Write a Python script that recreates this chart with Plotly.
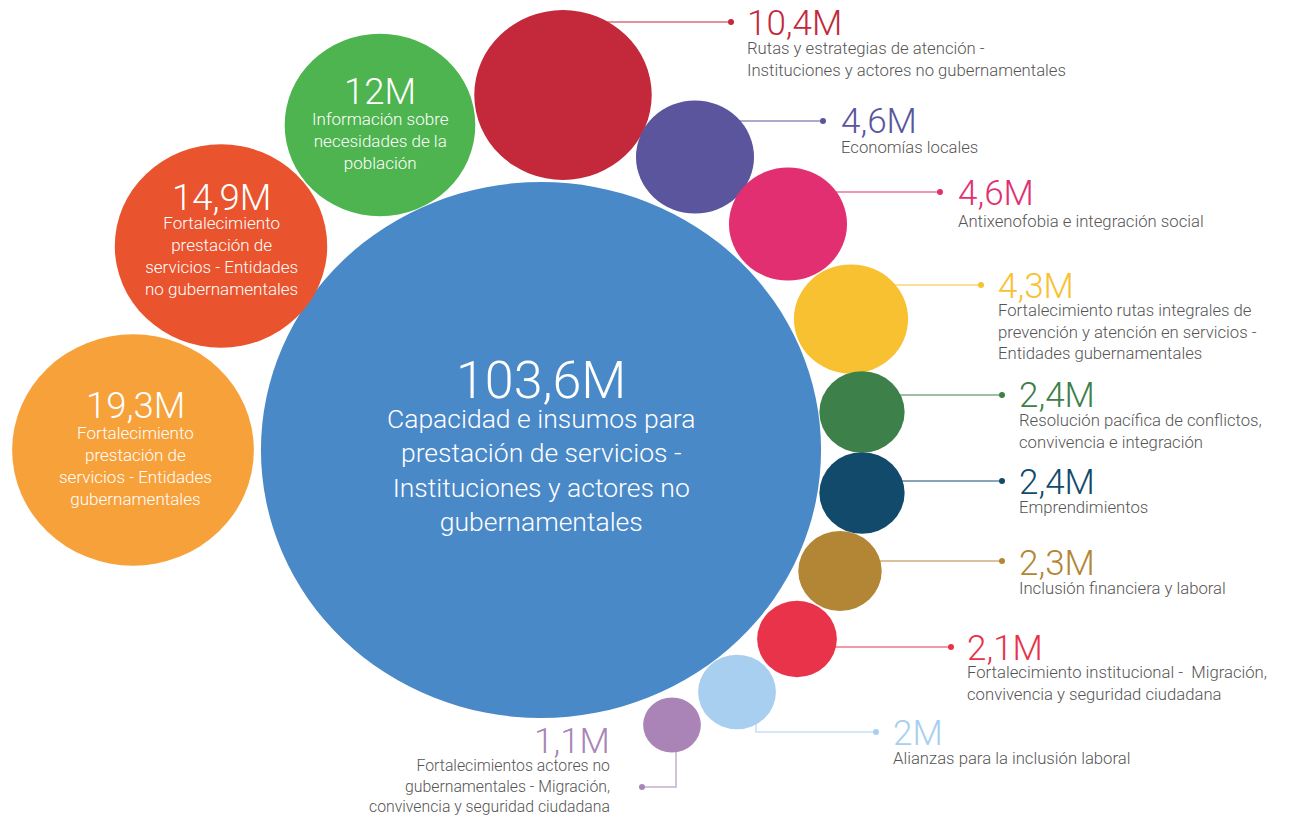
import math
import plotly.graph_objects as go

# ---------------- data ----------------
categories = [
    "Capacidad e insumos para<br>prestación de servicios -<br>Instituciones y actores no<br>gubernamentales",
    "Fortalecimiento<br>prestación de<br>servicios - Entidades<br>gubernamentales",
    "Fortalecimiento<br>prestación de<br>servicios - Entidades<br>no gubernamentales",
    "Información sobre<br>necesidades de la<br>población",
    "Rutas y estrategias de atención -<br>Instituciones y actores no gubernamentales",
    "Economías locales",
    "Antixenofobia e integración social",
    "Fortalecimiento rutas integrales de<br>prevención y atención en servicios -<br>Entidades gubernamentales",
    "Resolución pacífica de conflictos,<br>convivencia e integración",
    "Emprendimientos",
    "Inclusión financiera y laboral",
    "Fortalecimiento institucional -  Migración,<br>convivencia y seguridad ciudadana",
    "Alianzas para la inclusión laboral",
    "Fortalecimientos actores no<br>gubernamentales - Migración,<br>convivencia y seguridad ciudadana",
]
values = [103.6, 19.3, 14.9, 12.0, 10.4, 4.6, 4.6, 4.3, 2.4, 2.4, 2.3, 2.1, 2.0, 1.1]

# ---------------- styles ----------------
colors = ["#4A89C8", "#F7A13B", "#E9532D", "#4DB44F", "#C3293B", "#5A559C", "#E12F72",
          "#F8C131", "#3E804A", "#114A6B", "#B38636", "#E8334A", "#A8CFEF", "#AA84B7"]

# ---------------- layout (pixels) ----------------
W, H = 1290, 816
RMAX = 268          # radius of the largest bubble, px (vertical)
XS = 1.045          # horizontal stretch of the picture
FONT = "Roboto, Noto Sans, sans-serif"
SUB_COLOR = "#555555"

cx = [541, 133, 221, 380, 563, 695, 788, 851, 862, 862, 840, 797, 737, 672]
cy = [450, 450, 246, 125, 95, 157, 224, 319, 412, 493, 571, 639, 692, 725]

# label kind: 'in' inside the bubble, 'r' leader to the right, 'er' elbow right, 'el' elbow left
kind = ["in", "in", "in", "in", "r", "r", "r", "r", "r", "r", "r", "r", "er", "el"]
val_xy = [(541, 380), (135, 405), (221, 197), (380, 91), (745, 23), (839, 121), (956, 193),
          (996, 286), (1017, 395), (1017, 482), (1017, 563), (965, 648), (891, 733), (612, 741)]
sub_xy = [(541, 470), (135, 466), (221, 256), (380, 141), (745, 59), (839, 147), (956, 221),
          (996, 332), (1017, 431), (1017, 507), (1017, 588), (965, 683), (891, 758), (612, 786)]
val_size = [52, 36.5, 36.5, 36.5, 35, 35, 35, 35, 35, 35, 35, 35, 35, 35]
sub_size = [26.5, 17, 17, 17, 16.7, 16.7, 16.7, 16.7, 16.7, 16.7, 16.7, 16.7, 16.7, 15.8]
# leader: (line y, dot x, elbow x)
leader = [None, None, None, None, (22, 731, None), (121, 823, None), (192, 940, None),
          (285, 981, None), (395, 1002, None), (481, 1002, None), (561, 1002, None),
          (647, 951, None), (732, 876, 756), (787, 642, 676)]


def fmt(v):
    return ("%g" % v).replace(".", ",") + "M"


def rgba(hexc, a):
    h = hexc.lstrip("#")
    return "rgba(%d,%d,%d,%.2f)" % (int(h[0:2], 16), int(h[2:4], 16), int(h[4:6], 16), a)


vmax = max(values)
radii = [RMAX * math.sqrt(v / vmax) for v in values]

fig = go.Figure()
shapes = []
annotations = []

for i, v in enumerate(values):
    # leader line + dot
    if leader[i] is not None:
        ly, dx, ex = leader[i]
        if ex is None:
            xs, ys = [cx[i], dx], [ly, ly]
        else:
            xs, ys = [ex, ex, dx], [cy[i], ly, ly]
        fig.add_trace(go.Scatter(x=xs, y=ys, mode="lines", hoverinfo="skip", showlegend=False,
                                 line=dict(color=rgba(colors[i], 0.5), width=2)))
        fig.add_trace(go.Scatter(x=[dx], y=[ly], mode="markers", hoverinfo="skip", showlegend=False,
                                 marker=dict(color=colors[i], size=6)))
    # bubble
    r = radii[i]
    shapes.append(dict(type="circle", xref="x", yref="y", layer="above",
                       x0=cx[i] - r * XS, x1=cx[i] + r * XS, y0=cy[i] - r, y1=cy[i] + r,
                       fillcolor=colors[i], line=dict(width=0)))
    # texts
    if kind[i] == "in":
        xa, vcol, scol, align = "center", "white", "white", "center"
    elif kind[i] == "el":
        xa, vcol, scol, align = "right", colors[i], SUB_COLOR, "right"
    else:
        xa, vcol, scol, align = "left", colors[i], SUB_COLOR, "left"
    annotations.append(dict(x=val_xy[i][0], y=val_xy[i][1], xref="x", yref="y", text=fmt(v),
                            showarrow=False, xanchor=xa, yanchor="middle", align=align,
                            font=dict(family=FONT, size=val_size[i], color=vcol, weight=300)))
    annotations.append(dict(x=sub_xy[i][0], y=sub_xy[i][1], xref="x", yref="y", text=categories[i],
                            showarrow=False, xanchor=xa, yanchor="middle", align=align,
                            font=dict(family=FONT, size=sub_size[i], color=scol, weight=300)))

fig.update_layout(
    width=W, height=H, margin=dict(l=0, r=0, t=0, b=0),
    paper_bgcolor="white", plot_bgcolor="white",
    xaxis=dict(range=[0, W], visible=False, fixedrange=True),
    yaxis=dict(range=[H, 0], visible=False, fixedrange=True),
    shapes=shapes, annotations=annotations, showlegend=False,
)

fig.write_html("out.html", config={"displayModeBar": False},
               post_script="document.body.style.margin='0px';document.body.style.overflow='hidden';")
